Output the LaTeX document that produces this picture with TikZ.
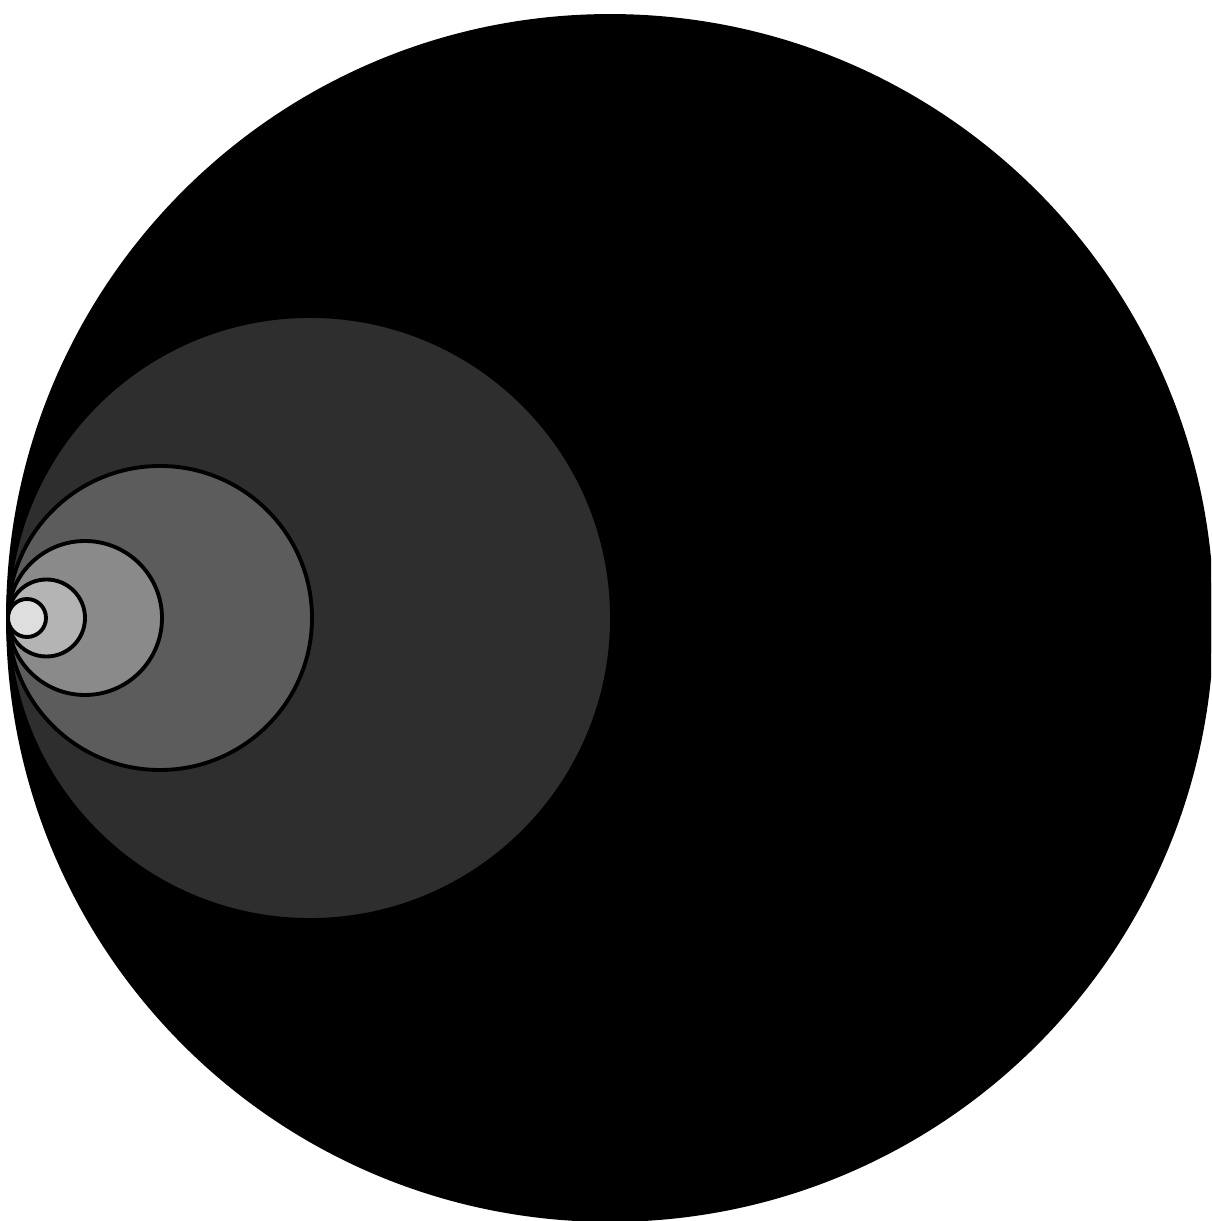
\documentclass[tikz,border=0pt]{standalone}
\usepackage{xcolor}
\usepackage{tikz}
\definecolor{ringA}{HTML}{000000}
\definecolor{ringB}{HTML}{2E2E2E}
\definecolor{ringC}{HTML}{5C5C5C}
\definecolor{ringD}{HTML}{8A8A8A}
\definecolor{ringE}{HTML}{B4B4B4}
\definecolor{ringF}{HTML}{DEDEDE}

\begin{document}
\begin{tikzpicture}[x=1cm,y=1cm,
  ring/.style={draw=black,line width=1.1pt}]
\useasboundingbox (0,0) rectangle (12.11,12.21);
\clip (0,0) rectangle (12.11,12.21);
\draw[ring,fill=ringA] (6.100,6.03) circle (6.020);
\draw[ring,fill=ringB] (3.100,6.03) circle (3.020);
\draw[ring,fill=ringC] (1.600,6.03) circle (1.520);
\draw[ring,fill=ringD] (0.850,6.03) circle (0.770);
\draw[ring,fill=ringE] (0.465,6.03) circle (0.385);
\draw[ring,fill=ringF] (0.270,6.03) circle (0.190);
\end{tikzpicture}
\end{document}
